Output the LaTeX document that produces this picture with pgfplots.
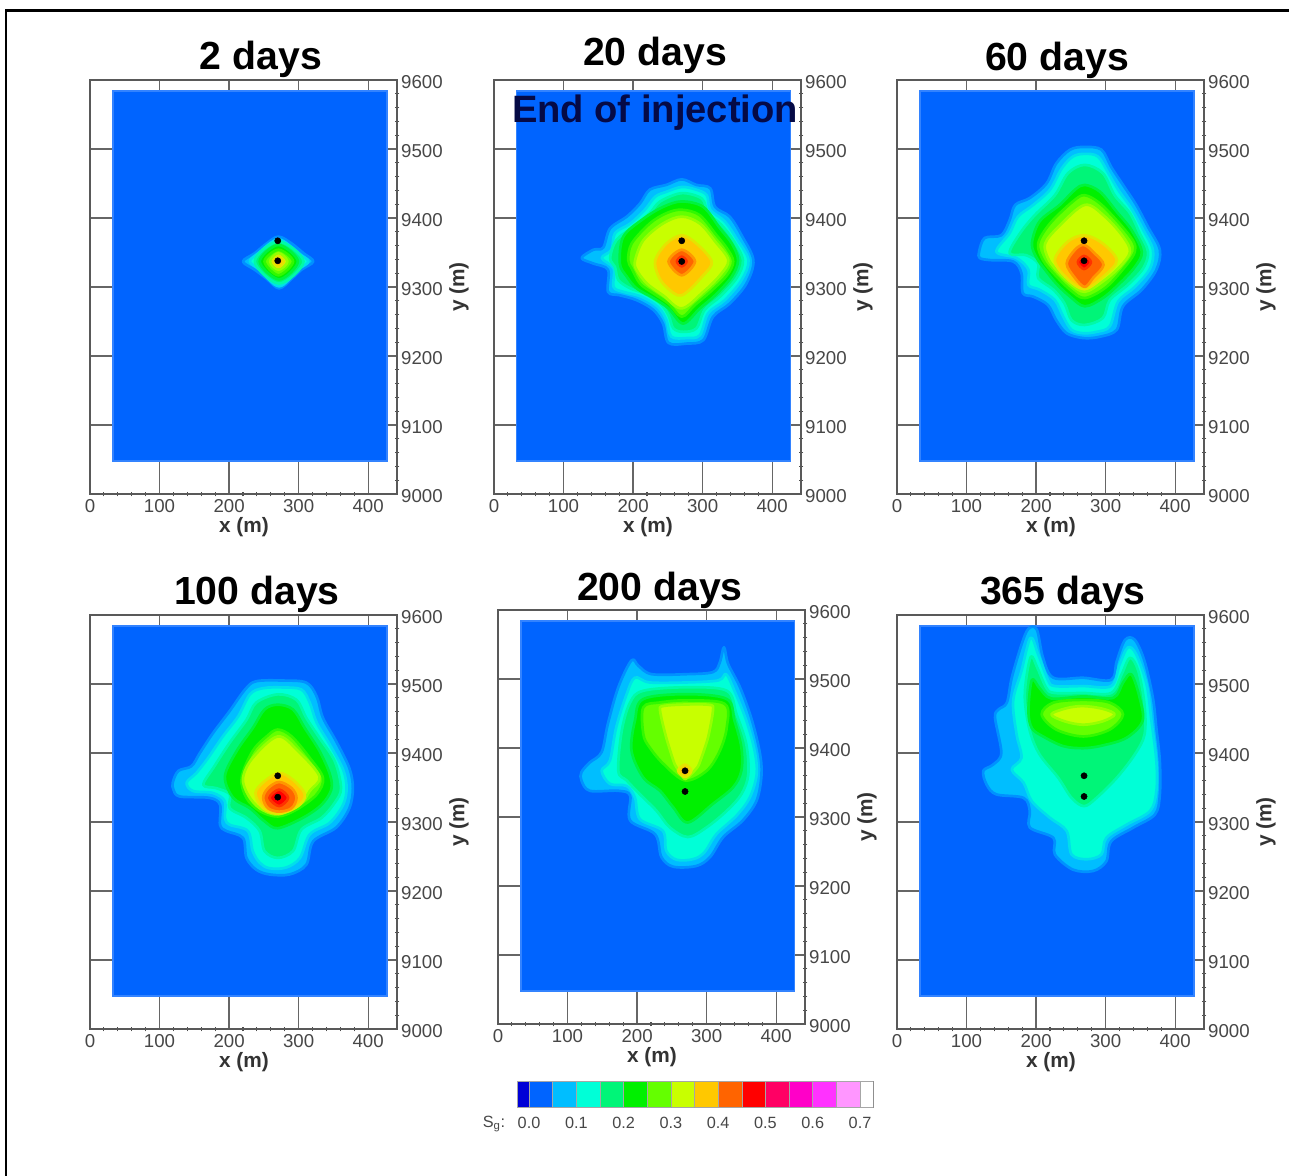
\documentclass[border=0pt]{standalone}
\usepackage{fontspec}
\setmainfont{Liberation Sans}
\usepackage{pgfplots}
\pgfplotsset{compat=1.18}
\definecolor{cdark}{RGB}{0,0,215}
\definecolor{cblue}{RGB}{0,100,255}
\definecolor{csky}{RGB}{0,190,255}
\definecolor{cteal}{RGB}{0,255,215}
\definecolor{cspring}{RGB}{0,245,120}
\definecolor{cgreen}{RGB}{0,240,0}
\definecolor{clime}{RGB}{100,255,0}
\definecolor{cyell}{RGB}{200,255,0}
\definecolor{camber}{RGB}{255,200,0}
\definecolor{corange}{RGB}{255,100,0}
\definecolor{cred}{RGB}{255,0,0}
\definecolor{crose}{RGB}{255,0,100}
\definecolor{cmag}{RGB}{255,0,200}
\definecolor{cfuch}{RGB}{255,50,255}
\definecolor{cpink}{RGB}{255,150,255}
\pgfplotsset{
  lv/.style n args={2}{fill=#1,draw=#1!50!#2,line width=2pt,line join=round,smooth cycle,tension=0.55,mark=none},
  l1/.style={lv={csky}{cblue}},
  l2/.style={lv={cteal}{csky}},
  l3/.style={lv={cspring}{cteal}},
  l4/.style={lv={cgreen}{cspring}},
  l5/.style={lv={clime}{cgreen}},
  l6/.style={lv={cyell}{clime}},
  l7/.style={lv={camber}{cyell}},
  l8/.style={lv={corange}{camber}},
  l9/.style={lv={cred}{corange}},
  base/.style={fill=cblue,draw=cblue!80!white,line width=1pt,mark=none},
  wells/.style={only marks,mark=*,mark size=2.3pt,mark options={fill=black,draw=black}},
  panel/.style={
    scale only axis,width=230.25pt,height=310.5pt,anchor=south west,
    xmin=0,xmax=441.5,ymin=9000,ymax=9600,
    xtick={0,100,200,300,400},ytick={9000,9100,9200,9300,9400,9500,9600},
    minor x tick num=4,minor y tick num=4,
    xtick pos=bottom,ytick pos=right,tick align=center,
    major tick length=0pt,minor tick length=3.5pt,
    grid=major,grid style={black!60,line width=0.9pt},
    minor tick style={black!70,line width=0.8pt},
    axis line style={black!65,line width=1.3pt},
    /pgf/number format/1000 sep={},
    /pgf/number format/assume math mode=true,
    tick label style={font=\fontsize{14pt}{15pt}\selectfont,text=black!72},
    xticklabel style={yshift=-0.8pt},
    yticklabel style={xshift=-0.4pt,yshift=-1.2pt},
    xlabel={x (m)},ylabel={y (m)},
    label style={font=\fontsize{15.6pt}{17pt}\selectfont\bfseries,text=black!80},
    xlabel style={at={(axis description cs:0.5016,-0.081)},anchor=center},
    ylabel style={at={(axis description cs:1.202,0.5)},anchor=center,rotate=0},
  },
}
\begin{document}
\begin{tikzpicture}[x=0.75pt,y=-0.75pt]
\path[use as bounding box] (0,0) rectangle (1289,1176);
\draw[black,line width=2pt] (6,1176) -- (6,10.5) -- (1289,10.5);
\coordinate (p1) at (90,494);
\coordinate (p2) at (494,494);
\coordinate (p3) at (897,494);
\coordinate (p4) at (90,1029);
\coordinate (p5) at (498,1024);
\coordinate (p6) at (897,1029);
\coordinate (pc) at (517,1107);

% ---------- 2 days
\begin{axis}[panel,at={(p1)}]
\addplot[base] coordinates {(33,9048)(427,9048)(427,9584)(33,9584)} --cycle;
\addplot[l1] coordinates {(220,9337)(237,9349)(254,9363)(271,9373)(290,9363)(307,9349)(321,9337)(304,9325)(290,9312)(272,9298)(254,9312)(237,9325)};
\addplot[l2] coordinates {(230,9337)(242,9349)(271,9369)(299,9349)(314,9337)(299,9325)(272,9301)(244,9325)};
\addplot[l3] coordinates {(237,9337)(271,9366)(307,9337)(272,9305)};
\addplot[l4] coordinates {(244,9337)(271,9361)(299,9337)(272,9311)};
\addplot[l5] coordinates {(251,9337)(271,9354)(292,9337)(271,9317)};
\addplot[l6] coordinates {(259,9337)(271,9349)(284,9337)(271,9325)};
\addplot[l7] coordinates {(263,9337)(271,9345)(279,9337)(271,9329)};
\addplot[wells] coordinates {(270,9367)(270,9338)};
\end{axis}

% ---------- 20 days
\begin{axis}[panel,at={(p2)}]
\addplot[base] coordinates {(32,9048)(426,9048)(426,9584)(32,9584)} --cycle;
\addplot[l1] coordinates {(126,9342)(143,9354)(157,9357)(167,9385)(191,9402)(210,9421)(224,9441)(248,9448)(270,9456)(291,9448)(311,9443)(318,9416)(339,9402)(356,9375)(373,9339)(363,9305)(339,9276)(315,9257)(301,9223)(277,9218)(251,9219)(243,9247)(229,9267)(205,9281)(181,9288)(164,9293)(164,9325)(143,9334)};
\addplot[l2] coordinates {(155,9342)(169,9354)(174,9378)(196,9392)(217,9412)(232,9431)(248,9438)(270,9445)(291,9441)(306,9433)(311,9412)(332,9395)(349,9370)(366,9339)(356,9310)(332,9281)(308,9262)(296,9230)(277,9226)(255,9228)(248,9252)(236,9271)(212,9286)(186,9293)(172,9300)(172,9327)};
\addplot[l3] coordinates {(167,9342)(176,9368)(200,9387)(224,9407)(239,9424)(270,9436)(299,9428)(308,9407)(327,9390)(344,9368)(358,9339)(349,9313)(325,9286)(303,9267)(291,9240)(272,9235)(258,9240)(251,9259)(239,9276)(215,9291)(196,9298)(179,9310)(174,9329)};
\addplot[l4] coordinates {(186,9373)(215,9399)(243,9416)(270,9424)(301,9416)(325,9385)(342,9363)(351,9339)(342,9315)(318,9288)(296,9269)(272,9247)(251,9269)(229,9284)(205,9298)(191,9315)(181,9334)};
\addplot[l5] coordinates {(193,9339)(198,9363)(224,9392)(248,9407)(270,9412)(296,9404)(320,9375)(335,9356)(344,9337)(335,9317)(311,9293)(289,9274)(270,9257)(251,9276)(229,9291)(210,9305)(198,9327)};
\addplot[l6] coordinates {(203,9339)(215,9368)(243,9392)(270,9402)(296,9392)(318,9366)(337,9339)(325,9317)(301,9293)(270,9269)(243,9288)(220,9305)(205,9325)};
\addplot[l7] coordinates {(232,9339)(248,9363)(270,9375)(291,9363)(313,9337)(301,9317)(270,9288)(248,9300)(236,9317)};
\addplot[l8] coordinates {(251,9337)(270,9354)(289,9337)(270,9317)};
\addplot[l9] coordinates {(263,9337)(270,9344)(277,9337)(270,9330)};
\addplot[wells] coordinates {(270,9367)(270,9337)};
\end{axis}

% ---------- 60 days
\begin{axis}[panel,at={(p3)}]
\addplot[base] coordinates {(33,9048)(427,9048)(427,9584)(33,9584)} --cycle;
\addplot[l1] coordinates {(118,9351)(126,9371)(150,9375)(162,9397)(170,9419)(191,9429)(215,9450)(229,9479)(249,9499)(270,9503)(294,9499)(308,9474)(325,9448)(344,9419)(361,9387)(378,9354)(373,9325)(352,9296)(325,9272)(316,9238)(292,9228)(268,9226)(244,9233)(229,9252)(217,9274)(196,9286)(181,9291)(179,9320)(167,9337)(134,9339)(119,9342)};
\addplot[l2] coordinates {(143,9351)(162,9378)(174,9402)(196,9419)(220,9441)(237,9472)(253,9489)(270,9493)(289,9489)(304,9465)(318,9441)(337,9414)(354,9383)(368,9354)(364,9327)(342,9300)(318,9279)(306,9243)(287,9235)(268,9233)(251,9238)(239,9257)(227,9281)(205,9296)(189,9303)(189,9325)(172,9342)};
\addplot[l3] coordinates {(162,9349)(177,9378)(198,9404)(227,9433)(246,9465)(270,9477)(296,9465)(313,9433)(335,9407)(349,9378)(361,9351)(354,9327)(332,9303)(306,9281)(296,9255)(270,9245)(251,9252)(241,9276)(225,9296)(203,9313)(203,9334)(186,9346)};
\addplot[l4] coordinates {(194,9363)(205,9395)(234,9419)(256,9441)(270,9448)(292,9438)(316,9409)(337,9383)(352,9351)(342,9329)(320,9305)(296,9284)(270,9272)(249,9286)(229,9305)(213,9325)(201,9342)};
\addplot[l5] coordinates {(203,9363)(220,9392)(253,9424)(270,9433)(292,9421)(320,9392)(340,9366)(342,9351)(330,9332)(301,9300)(270,9284)(249,9296)(225,9320)(210,9339)};
\addplot[l6] coordinates {(213,9363)(232,9387)(270,9419)(299,9402)(325,9373)(335,9351)(320,9329)(296,9308)(270,9293)(249,9305)(229,9325)(217,9342)};
\addplot[l7] coordinates {(227,9339)(246,9366)(270,9375)(296,9363)(316,9339)(299,9317)(270,9297)(244,9313)};
\addplot[l8] coordinates {(244,9334)(256,9354)(269,9361)(284,9349)(297,9332)(282,9313)(270,9300)(256,9313)};
\addplot[l9] coordinates {(260,9336)(269,9345)(279,9336)(269,9326)};
\addplot[wells] coordinates {(269,9367)(269,9338)};
\end{axis}

% ---------- 100 days
\begin{axis}[panel,at={(p4)}]
\addplot[base] coordinates {(33,9048)(427,9048)(427,9584)(33,9584)} --cycle;
\addplot[l1] coordinates {(119,9357)(127,9374)(146,9381)(158,9400)(177,9429)(201,9461)(223,9492)(239,9504)(278,9505)(311,9502)(326,9482)(335,9451)(354,9417)(373,9378)(378,9349)(373,9320)(354,9292)(321,9272)(311,9238)(287,9224)(258,9224)(239,9231)(225,9248)(220,9277)(196,9287)(187,9296)(187,9325)(172,9335)(129,9337)(120,9347)};
\addplot[l2] coordinates {(139,9357)(153,9371)(170,9393)(191,9424)(213,9453)(230,9485)(249,9494)(278,9495)(304,9492)(316,9473)(326,9444)(345,9412)(364,9376)(369,9349)(364,9325)(345,9299)(316,9282)(302,9248)(282,9234)(258,9233)(244,9241)(234,9258)(227,9287)(201,9296)(194,9306)(194,9330)(177,9342)(148,9345)};
\addplot[l3] coordinates {(163,9354)(179,9381)(201,9415)(225,9448)(239,9473)(270,9485)(297,9477)(311,9451)(330,9422)(352,9388)(361,9349)(352,9328)(333,9306)(304,9289)(292,9258)(270,9248)(251,9258)(244,9287)(225,9306)(201,9320)(201,9340)(182,9349)};
\addplot[l4] coordinates {(194,9366)(211,9403)(234,9436)(251,9463)(270,9470)(292,9463)(309,9436)(330,9403)(345,9369)(347,9347)(333,9325)(306,9306)(270,9291)(251,9301)(230,9320)(206,9335)};
\addplot[l5] coordinates {(218,9364)(234,9403)(254,9424)(270,9434)(290,9424)(316,9393)(335,9364)(326,9340)(297,9318)(270,9308)(244,9316)(225,9335)};
\addplot[l6] coordinates {(220,9364)(234,9393)(270,9424)(299,9403)(330,9366)(316,9345)(302,9325)(270,9311)(244,9320)(227,9340)};
\addplot[l7] coordinates {(238,9342)(251,9359)(272,9371)(292,9361)(309,9340)(299,9323)(272,9312)(249,9320)};
\addplot[l8] coordinates {(249,9335)(256,9349)(272,9358)(290,9349)(297,9335)(290,9320)(272,9315)(256,9320)};
\addplot[l9] coordinates {(258,9335)(272,9347)(285,9335)(272,9323)};
\addplot[wells] coordinates {(270,9367)(270,9336)};
\end{axis}

% ---------- 200 days
\begin{axis}[panel,at={(p5)}]
\addplot[base] coordinates {(33,9048)(426,9048)(426,9584)(33,9584)} --cycle;
\addplot[l1] coordinates {(120,9365)(132,9379)(149,9394)(158,9435)(173,9488)(192,9527)(202,9519)(221,9507)(271,9507)(309,9510)(319,9524)(325,9546)(331,9522)(348,9488)(364,9444)(376,9396)(379,9362)(372,9324)(352,9295)(324,9271)(305,9242)(285,9229)(252,9228)(235,9242)(226,9275)(190,9295)(190,9331)(173,9338)(132,9338)(120,9353)};
\addplot[l2] coordinates {(149,9367)(161,9382)(170,9430)(185,9478)(197,9502)(218,9495)(271,9495)(317,9498)(328,9507)(340,9483)(357,9440)(369,9396)(372,9362)(362,9328)(343,9302)(314,9275)(297,9249)(281,9239)(257,9238)(242,9251)(237,9280)(204,9297)(197,9328)(185,9345)(161,9348)};
\addplot[l3] coordinates {(173,9367)(178,9425)(190,9466)(209,9483)(271,9488)(329,9483)(343,9449)(357,9406)(360,9362)(350,9333)(329,9309)(300,9285)(273,9271)(247,9285)(228,9309)(204,9333)(185,9353)};
\addplot[l4] coordinates {(192,9396)(197,9440)(209,9471)(271,9478)(329,9471)(340,9440)(350,9401)(350,9367)(338,9343)(309,9319)(273,9292)(252,9314)(233,9338)(209,9357)};
\addplot[l5] coordinates {(209,9420)(209,9459)(233,9466)(271,9469)(326,9464)(329,9430)(319,9396)(300,9367)(269,9353)(238,9377)(218,9401)};
\addplot[l6,tension=0.25] coordinates {(233,9459)(269,9463)(309,9461)(302,9415)(288,9374)(269,9355)(254,9377)(242,9415)};
\addplot[l7] coordinates {(259,9367)(269,9376)(278,9367)(269,9358)};
\addplot[wells] coordinates {(269,9367)(269,9337)};
\end{axis}

% ---------- 365 days
\begin{axis}[panel,at={(p6)}]
\addplot[base] coordinates {(33,9048)(427,9048)(427,9584)(33,9584)} --cycle;
\addplot[l1] coordinates {(124,9374)(138,9383)(150,9400)(141,9451)(146,9463)(158,9473)(165,9509)(179,9557)(189,9580)(201,9579)(210,9538)(225,9509)(268,9509)(308,9506)(316,9533)(328,9564)(342,9564)(356,9533)(368,9480)(373,9436)(378,9388)(378,9340)(371,9311)(340,9292)(308,9272)(301,9243)(282,9229)(253,9231)(227,9253)(225,9277)(191,9292)(191,9316)(182,9335)(143,9340)(129,9354)};
\addplot[l2] coordinates {(165,9376)(179,9393)(172,9427)(167,9475)(179,9519)(192,9567)(203,9543)(217,9506)(227,9497)(268,9497)(308,9497)(320,9528)(332,9553)(344,9543)(359,9499)(366,9446)(373,9388)(373,9345)(364,9316)(330,9296)(301,9277)(294,9253)(273,9246)(251,9253)(244,9287)(220,9306)(194,9330)(182,9357)};
\addplot[l3] coordinates {(184,9475)(186,9509)(193,9540)(202,9523)(215,9494)(227,9487)(268,9487)(308,9487)(323,9514)(335,9538)(347,9519)(356,9470)(356,9427)(342,9398)(316,9364)(287,9335)(269,9323)(251,9335)(232,9364)(205,9398)(191,9432)};
\addplot[l4] coordinates {(189,9461)(194,9506)(205,9494)(222,9479)(268,9482)(311,9480)(325,9502)(337,9514)(349,9480)(353,9446)(330,9422)(296,9411)(268,9407)(239,9410)(210,9424)(194,9436)};
\addplot[l5] coordinates {(208,9456)(225,9473)(268,9477)(306,9473)(325,9456)(306,9434)(268,9424)(229,9434)};
\addplot[l6] coordinates {(222,9456)(244,9465)(268,9468)(296,9464)(313,9456)(296,9446)(268,9441)(241,9446)};
\addplot[wells] coordinates {(269,9367)(269,9337)};
\end{axis}

% ---------- colour scale
\begin{axis}[scale only axis,width=267pt,height=19.5pt,at={(pc)},anchor=south west,
  xmin=-0.0254,xmax=0.7274,ymin=0,ymax=1,ytick=\empty,
  xtick={0,0.1,0.2,0.3,0.4,0.5,0.6,0.7},xtick pos=bottom,major tick length=0pt,
  /pgf/number format/fixed,/pgf/number format/fixed zerofill,/pgf/number format/precision=1,
  /pgf/number format/assume math mode=true,
  tick label style={font=\fontsize{12.2pt}{13pt}\selectfont,text=black!72},
  xticklabel style={yshift=-4.2pt},
  axis line style={black!45,line width=0.6pt}]
\addplot[fill=cdark,draw=black!35,mark=none] coordinates {(-0.0254,0)(0,0)(0,1)(-0.0254,1)} --cycle;
\addplot[fill=cblue,draw=black!35,mark=none] coordinates {(0,0)(0.05,0)(0.05,1)(0,1)} --cycle;
\addplot[fill=csky,draw=black!35,mark=none] coordinates {(0.05,0)(0.1,0)(0.1,1)(0.05,1)} --cycle;
\addplot[fill=cteal,draw=black!35,mark=none] coordinates {(0.1,0)(0.15,0)(0.15,1)(0.1,1)} --cycle;
\addplot[fill=cspring,draw=black!35,mark=none] coordinates {(0.15,0)(0.2,0)(0.2,1)(0.15,1)} --cycle;
\addplot[fill=cgreen,draw=black!35,mark=none] coordinates {(0.2,0)(0.25,0)(0.25,1)(0.2,1)} --cycle;
\addplot[fill=clime,draw=black!35,mark=none] coordinates {(0.25,0)(0.3,0)(0.3,1)(0.25,1)} --cycle;
\addplot[fill=cyell,draw=black!35,mark=none] coordinates {(0.3,0)(0.35,0)(0.35,1)(0.3,1)} --cycle;
\addplot[fill=camber,draw=black!35,mark=none] coordinates {(0.35,0)(0.4,0)(0.4,1)(0.35,1)} --cycle;
\addplot[fill=corange,draw=black!35,mark=none] coordinates {(0.4,0)(0.45,0)(0.45,1)(0.4,1)} --cycle;
\addplot[fill=cred,draw=black!35,mark=none] coordinates {(0.45,0)(0.5,0)(0.5,1)(0.45,1)} --cycle;
\addplot[fill=crose,draw=black!35,mark=none] coordinates {(0.5,0)(0.55,0)(0.55,1)(0.5,1)} --cycle;
\addplot[fill=cmag,draw=black!35,mark=none] coordinates {(0.55,0)(0.6,0)(0.6,1)(0.55,1)} --cycle;
\addplot[fill=cfuch,draw=black!35,mark=none] coordinates {(0.6,0)(0.65,0)(0.65,1)(0.6,1)} --cycle;
\addplot[fill=cpink,draw=black!35,mark=none] coordinates {(0.65,0)(0.7,0)(0.7,1)(0.65,1)} --cycle;
\addplot[fill=white,draw=black!35,mark=none] coordinates {(0.7,0)(0.7274,0)(0.7274,1)(0.7,1)} --cycle;
\end{axis}
\node[font=\fontsize{12.2pt}{13pt}\selectfont,text=black!72] at (494,1124) {S\textsubscript{g}:};

% ---------- titles
\tikzset{ttl/.style={font=\fontsize{29.4pt}{31pt}\selectfont\bfseries,text=black,inner sep=0pt}}
\node[ttl] at (261,59) {2 days};
\node[ttl] at (655,55) {20 days};
\node[ttl,font=\fontsize{28.6pt}{30pt}\selectfont\bfseries,text={rgb,255:red,5;green,10;blue,70}] at (655,113) {End of injection};
\node[ttl] at (1057,60) {60 days};
\node[ttl] at (257,594) {100 days};
\node[ttl] at (660,590) {200 days};
\node[ttl] at (1063,594) {365 days};
\end{tikzpicture}
\end{document}
